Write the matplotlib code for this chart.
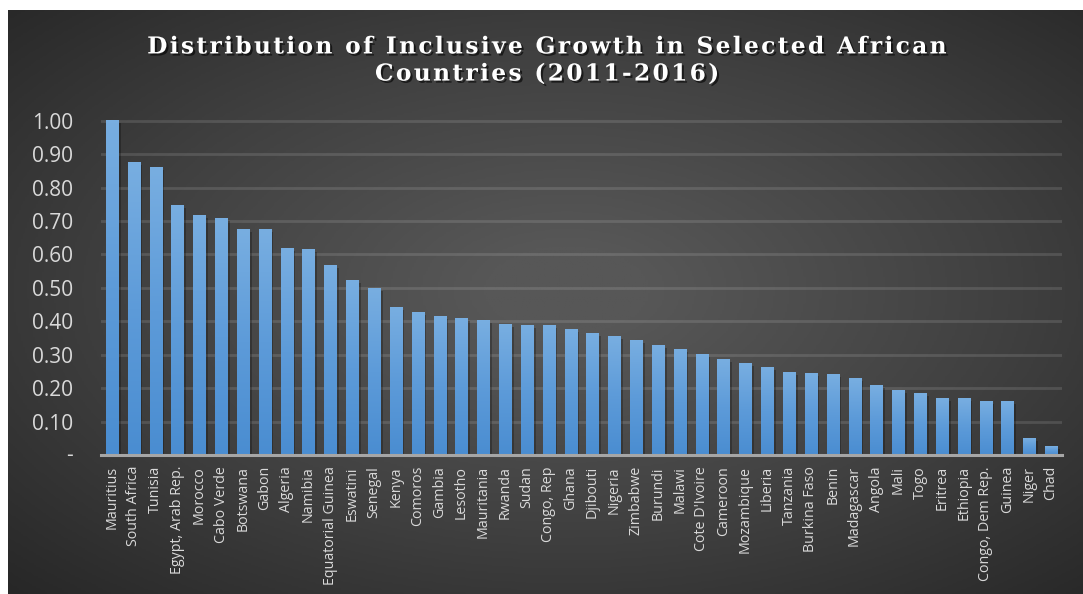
import numpy as np
import matplotlib
matplotlib.use("Agg")
import matplotlib.pyplot as plt
import matplotlib.patheffects as pe
from matplotlib.colors import LinearSegmentedColormap

# data
countries = ['Mauritius', 'South Africa', 'Tunisia', 'Egypt, Arab Rep.', 'Morocco',
             'Cabo Verde', 'Botswana', 'Gabon', 'Algeria', 'Namibia',
             'Equatorial Guinea', 'Eswatini', 'Senegal', 'Kenya', 'Comoros',
             'Gambia', 'Lesotho', 'Mauritania', 'Rwanda', 'Sudan',
             'Congo, Rep', 'Ghana', 'Djibouti', 'Nigeria', 'Zimbabwe',
             'Burundi', 'Malawi', "Cote D'Ivoire", 'Cameroon', 'Mozambique',
             'Liberia', 'Tanzania', 'Burkina Faso', 'Benin', 'Madagascar',
             'Angola', 'Mali', 'Togo', 'Eritrea', 'Ethiopia',
             'Congo, Dem Rep.', 'Guinea', 'Niger', 'Chad']
values = [1.000, 0.874, 0.859, 0.746, 0.716,
          0.707, 0.674, 0.674, 0.617, 0.614,
          0.566, 0.521, 0.498, 0.441, 0.426,
          0.414, 0.408, 0.402, 0.390, 0.387,
          0.387, 0.375, 0.363, 0.354, 0.342,
          0.327, 0.315, 0.300, 0.285, 0.273,
          0.261, 0.246, 0.243, 0.240, 0.228,
          0.207, 0.192, 0.183, 0.168, 0.168,
          0.159, 0.159, 0.048, 0.024]
yticks = [0.1, 0.2, 0.3, 0.4, 0.5, 0.6, 0.7, 0.8, 0.9, 1.0]
ytick_labels = ['%.2f' % t for t in yticks]
title_lines = ['Distribution of Inclusive Growth in Selected African',
               'Countries (2011-2016)']

W, H = 1083, 594
fig = plt.figure(figsize=(W / 100, H / 100), dpi=100)
fig.patch.set_facecolor('white')

# dark radial-gradient panel behind the chart
bg = fig.add_axes([8 / W, 0, (W - 8) / W, 1 - 10 / H])
bg.set_axis_off()
yy, xx = np.mgrid[0:1:300j, 0:1:500j]
r = np.sqrt(((xx - 0.52) / 0.75) ** 2 + ((yy - 0.48) / 0.75) ** 2)
shade = np.clip(1 - r, 0, 1)
bg_cmap = LinearSegmentedColormap.from_list('bg', ['#262626', '#404040', '#575757'])
bg.imshow(shade, cmap=bg_cmap, aspect='auto', extent=[0, 1, 0, 1], vmin=0, vmax=0.9)
bg.set_xlim(0, 1)
bg.set_ylim(0, 1)

# main axes
top_px, base_px = 110.7, 455
ax = fig.add_axes([101 / W, 1 - base_px / H, (1062 - 101) / W, (base_px - top_px) / H])
ax.patch.set_alpha(0)

bar_cmap = LinearSegmentedColormap.from_list('bar', ['#4a8dd1', '#5d9bd9', '#78aee1'])
grad = np.linspace(0, 1, 100).reshape(-1, 1)
x = np.arange(len(countries))
w = 0.55
# soft shadow behind bars
ax.bar(x + 0.12, values, width=w, bottom=-0.006, color='black', alpha=0.25, zorder=2)
bars = ax.bar(x, values, width=w, color='none', zorder=3)
for b in bars:
    x0, h = b.get_x(), b.get_height()
    ax.imshow(grad, cmap=bar_cmap, aspect='auto', origin='lower',
              extent=[x0, x0 + b.get_width(), 0, h], zorder=3)
ax.set_xlim(-0.5, len(countries) - 0.5)
ax.set_ylim(0, 1.03)

for t in yticks:
    ax.axhline(t, color='white', alpha=0.12, lw=2, zorder=1)
ax.set_yticks(yticks)
ax.set_yticklabels(ytick_labels, family='Open Sans', fontsize=15, color='#d9d9d9')
# zero is shown as a dash
ax.text(-0.5 - 28 / 21.84, 0, '-', ha='right', va='center',
        fontsize=15, family='Open Sans', color='#d9d9d9')
ax.set_xticks(x)
ax.set_xticklabels(countries, rotation=90, family='Open Sans', fontsize=10.3, color='#d9d9d9')
ax.tick_params(axis='both', length=0)
ax.tick_params(axis='y', pad=20)
ax.tick_params(axis='x', pad=8)
for s in ['top', 'right', 'left']:
    ax.spines[s].set_visible(False)
ax.spines['bottom'].set_color('#a6a6a6')
ax.spines['bottom'].set_linewidth(2.2)
ax.spines['bottom'].set_zorder(4)

# spaced-out title (hair spaces between letters)
spaced = '\n'.join('\u200a'.join(line) for line in title_lines)
fig.text(548 / W, 1 - 61 / H, spaced,
         ha='center', va='center', family='DejaVu Serif', fontweight='bold',
         fontsize=16.8, color='white', linespacing=1.3,
         path_effects=[pe.withSimplePatchShadow(offset=(1.5, -1.5), shadow_rgbFace='black', alpha=0.6)])

fig.savefig('out.png', dpi=100, facecolor=fig.get_facecolor())
